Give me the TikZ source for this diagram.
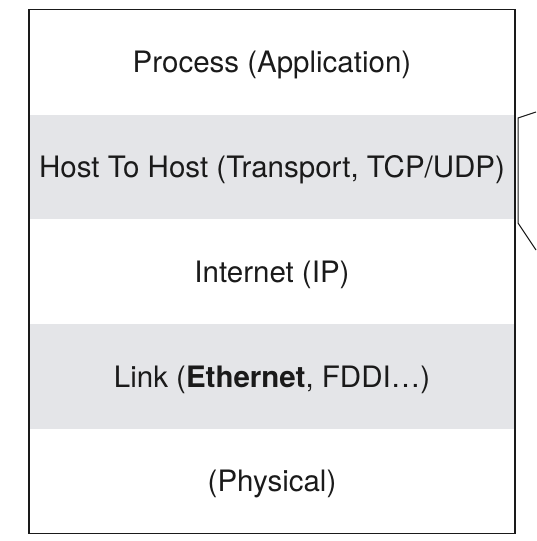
\documentclass[tikz,border=0pt]{standalone}
\usepackage{fontspec}
\setmainfont{TeX Gyre Heros}
\usepackage{tikz}
\usetikzlibrary{positioning}

\definecolor{bandgray}{HTML}{E4E5E8}
\definecolor{inkgray}{HTML}{1A1A1A}

\tikzset{
  layer/.style={draw=none, minimum width=486pt, minimum height=104.4pt,
    inner sep=0pt, text height=21.5pt, text depth=0pt, text=inkgray,
    font=\fontsize{29.5}{35}\selectfont},
  band/.style={layer, fill=bandgray},
}

\begin{document}
\begin{tikzpicture}[x=1pt,y=-1pt]

% size of the page
\useasboundingbox (0,0) rectangle (536,541);

% process
\node[layer] (proc) at (272,62) {Process (Application)};

% host to host
\node[band, below=0pt of proc] (host) {Host To Host (Transport, TCP/UDP)};

% internet
\node[layer, below=0pt of host] (inet) {Internet (IP)};

% link
\node[band, below=0pt of inet] (link) {Link (\textbf{Ethernet}, FDDI\dots)};

% physical
\node[layer, below=0pt of link] (phys) {(Physical)};

% outer frame
\draw[line width=1.5pt, draw=inkgray] (proc.north west) rectangle (phys.south east);

% bracket at the right side
\draw[line width=1pt, draw=inkgray] (536,112) -- (518,118) -- (518,223) -- (536,250);

\end{tikzpicture}
\end{document}
